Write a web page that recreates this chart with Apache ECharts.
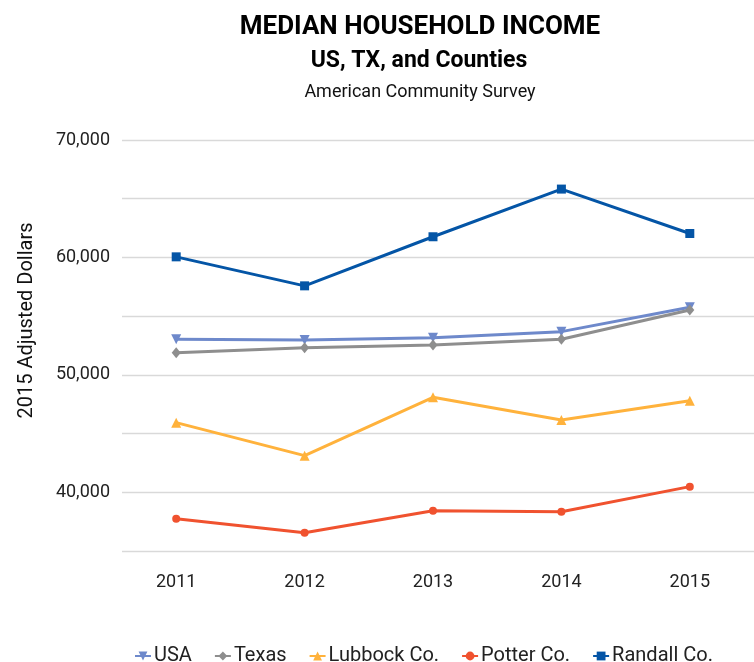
<!DOCTYPE html>
<html><head><meta charset="utf-8">
<script src="https://cdn.jsdelivr.net/npm/echarts@6/dist/echarts.min.js"></script>
<style>html,body{margin:0;padding:0;background:#fff}#c{width:754px;height:662px}</style>
</head><body><div id="c"></div>
<script>
const years = ['2011', '2012', '2013', '2014', '2015'];
const seriesNames = ['USA', 'Texas', 'Lubbock Co.', 'Potter Co.', 'Randall Co.'];
const usa = [53030, 52970, 53160, 53680, 55750];
const texas = [51890, 52310, 52540, 53030, 55520];
const lubbock = [45930, 43120, 48090, 46160, 47800];
const potter = [37750, 36560, 38430, 38350, 40480];
const randall = [60050, 57580, 61760, 65820, 62040];
const yMin = 35000, yMax = 70000, yStep = 5000, yLabelStep = 10000;

const FONT = 'Roboto';
const chart = echarts.init(document.getElementById('c'), null, {renderer: 'canvas'});

function mk(name, data, color, symbol, size, rotate, width) {
  return {
    name: name, type: 'line', data: data, xAxisIndex: 0, yAxisIndex: 0,
    symbol: symbol, symbolSize: size, symbolRotate: rotate || 0, showAllSymbol: true,
    lineStyle: {color: color, width: width},
    itemStyle: {color: color},
    emphasis: {disabled: true}
  };
}

const option = {
  animation: false,
  backgroundColor: '#ffffff',
  title: [
    {text: 'MEDIAN HOUSEHOLD INCOME', left: 415, top: 9, textAlign: 'center',
     textStyle: {fontFamily: FONT, fontWeight: 'bold', fontSize: 26, color: '#000'}},
    {text: 'US, TX, and Counties', left: 414, top: 45, textAlign: 'center',
     textStyle: {fontFamily: FONT, fontWeight: 'bold', fontSize: 23, color: '#000'}},
    {text: 'American Community Survey', left: 415, top: 78, textAlign: 'center',
     textStyle: {fontFamily: FONT, fontWeight: 'normal', fontSize: 18, color: '#111'}}
  ],
  legend: {
    left: 129, top: 641, itemWidth: 16, itemHeight: 11, itemGap: 22,
    textStyle: {fontFamily: FONT, fontSize: 20, color: '#222', padding: [0, 0, 0, -2]},
    data: seriesNames
  },
  grid: [
    {left: 112, top: 140, width: 649, height: 411},
    {left: 122, top: 140, width: 632, height: 411}
  ],
  xAxis: [
    {type: 'category', gridIndex: 0, data: years, boundaryGap: true,
     axisLine: {show: false}, axisTick: {show: false},
     axisLabel: {fontFamily: FONT, fontSize: 18, color: '#222', margin: 22}},
    {type: 'category', gridIndex: 1, data: years, show: false}
  ],
  yAxis: [
    {type: 'value', gridIndex: 0, min: yMin, max: yMax, interval: yStep, show: false,
     splitLine: {show: false}},
    {type: 'value', gridIndex: 1, min: yMin, max: yMax, interval: yStep,
     axisLine: {show: false}, axisTick: {show: false},
     splitLine: {show: true, lineStyle: {color: '#d9d9d9', width: 1.3}},
     axisLabel: {fontFamily: FONT, fontSize: 18, color: '#222', margin: 12,
       formatter: v => (v % yLabelStep === 0 ? v.toLocaleString('en-US') : '')},
     name: '2015 Adjusted Dollars', nameLocation: 'middle', nameGap: 85,
     nameTextStyle: {fontFamily: FONT, fontSize: 20, color: '#111', padding: [0, 0, 0, 50]}}
  ],
  series: [
    mk(seriesNames[0], usa, '#6E89CB', 'triangle', 10, 180, 3),
    mk(seriesNames[1], texas, '#8E8E8E', 'diamond', [9, 11], 0, 3),
    mk(seriesNames[2], lubbock, '#FFB23C', 'triangle', 10, 0, 3),
    mk(seriesNames[3], potter, '#F0522F', 'circle', 8, 0, 3),
    mk(seriesNames[4], randall, '#0455A6', 'rect', 9, 0, 3)
  ]
};
chart.setOption(option);
</script></body></html>
